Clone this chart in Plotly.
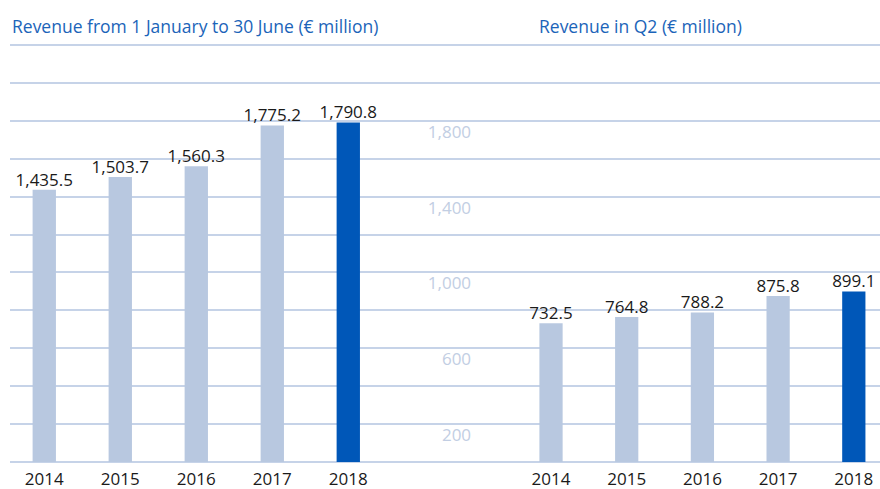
import plotly.graph_objects as go

years = ["2014", "2015", "2016", "2017", "2018"]
h1_revenue = [1435.5, 1503.7, 1560.3, 1775.2, 1790.8]
q2_revenue = [732.5, 764.8, 788.2, 875.8, 899.1]
h1_labels = ["1,435.5", "1,503.7", "1,560.3", "1,775.2", "1,790.8"]
q2_labels = ["732.5", "764.8", "788.2", "875.8", "899.1"]
y_tickvals = [200, 600, 1000, 1400, 1800]
y_ticktext = ["200", "600", "1,000", "1,400", "1,800"]
title_left = "Revenue from 1 January to 30 June (€ million)"
title_right = "Revenue in Q2 (€ million)"

LIGHT = "#b8c8e0"
DARK = "#0057b8"
bar_colors = [LIGHT, LIGHT, LIGHT, LIGHT, DARK]
FONT = "Open Sans"
TXT = "#1a1a1a"

fig = go.Figure()
for vals, labels, xa in [(h1_revenue, h1_labels, "x"), (q2_revenue, q2_labels, "x2")]:
    fig.add_trace(go.Bar(x=years, y=vals,
                         marker=dict(color=bar_colors, line=dict(width=0)), width=0.307,
                         cliponaxis=False, xaxis=xa, yaxis="y", showlegend=False,
                         hoverinfo="skip"))
    fig.add_trace(go.Scatter(x=years, y=vals, text=labels, mode="text",
                             textposition="top center",
                             textfont=dict(color=TXT, size=17, family=FONT),
                             cliponaxis=False, xaxis=xa, yaxis="y", showlegend=False,
                             hoverinfo="skip"))
# invisible trace so the secondary (label-only) y axis is rendered
fig.add_trace(go.Scatter(x=[None], y=[None], xaxis="x", yaxis="y2", showlegend=False,
                         hoverinfo="skip"))

fig.update_layout(
    width=880, height=489,
    margin=dict(l=10, r=0, t=7, b=27, autoexpand=False),
    paper_bgcolor="white", plot_bgcolor="white",
    font=dict(family=FONT, color=TXT),
    xaxis=dict(type="category", range=[-0.451, 10.996], domain=[0, 1],
               showgrid=False, zeroline=False, showline=False, ticks="",
               ticklabelstandoff=5,
               tickfont=dict(size=17, color=TXT, family=FONT)),
    xaxis2=dict(type="category", range=[-7.147, 4.346], overlaying="x", anchor="y",
                side="bottom", showgrid=False, zeroline=False, showline=False, ticks="",
                ticklabelstandoff=5,
                tickfont=dict(size=17, color=TXT, family=FONT)),
    yaxis=dict(range=[0, 2400], dtick=200, tickmode="linear",
               showgrid=True, gridcolor="#c6d3e8", gridwidth=2,
               zeroline=True, zerolinecolor="#c6d3e8", zerolinewidth=2,
               showticklabels=False, showline=False),
    yaxis2=dict(range=[0, 2400], overlaying="y", anchor="free", position=0.530,
                side="left", tickmode="array", tickvals=y_tickvals, ticktext=y_ticktext,
                showgrid=False, zeroline=False, showline=False, ticks="",
                ticklabelshift=11,
                tickfont=dict(size=17, color="#c2cee3", family=FONT)),
    annotations=[
        dict(text=title_left, xref="paper", yref="y", x=0, y=2300, xanchor="left",
             yanchor="middle", showarrow=False,
             font=dict(size=17.5, color="#1b64b9", family=FONT)),
        dict(text=title_right, xref="x2", yref="y", x=-0.18, y=2300, xanchor="left",
             yanchor="middle", showarrow=False,
             font=dict(size=17.5, color="#1b64b9", family=FONT)),
    ],
)

fig.write_html("out.html", config={"displayModeBar": False},
               post_script="document.body.style.margin='0';document.body.style.overflow='hidden';")
